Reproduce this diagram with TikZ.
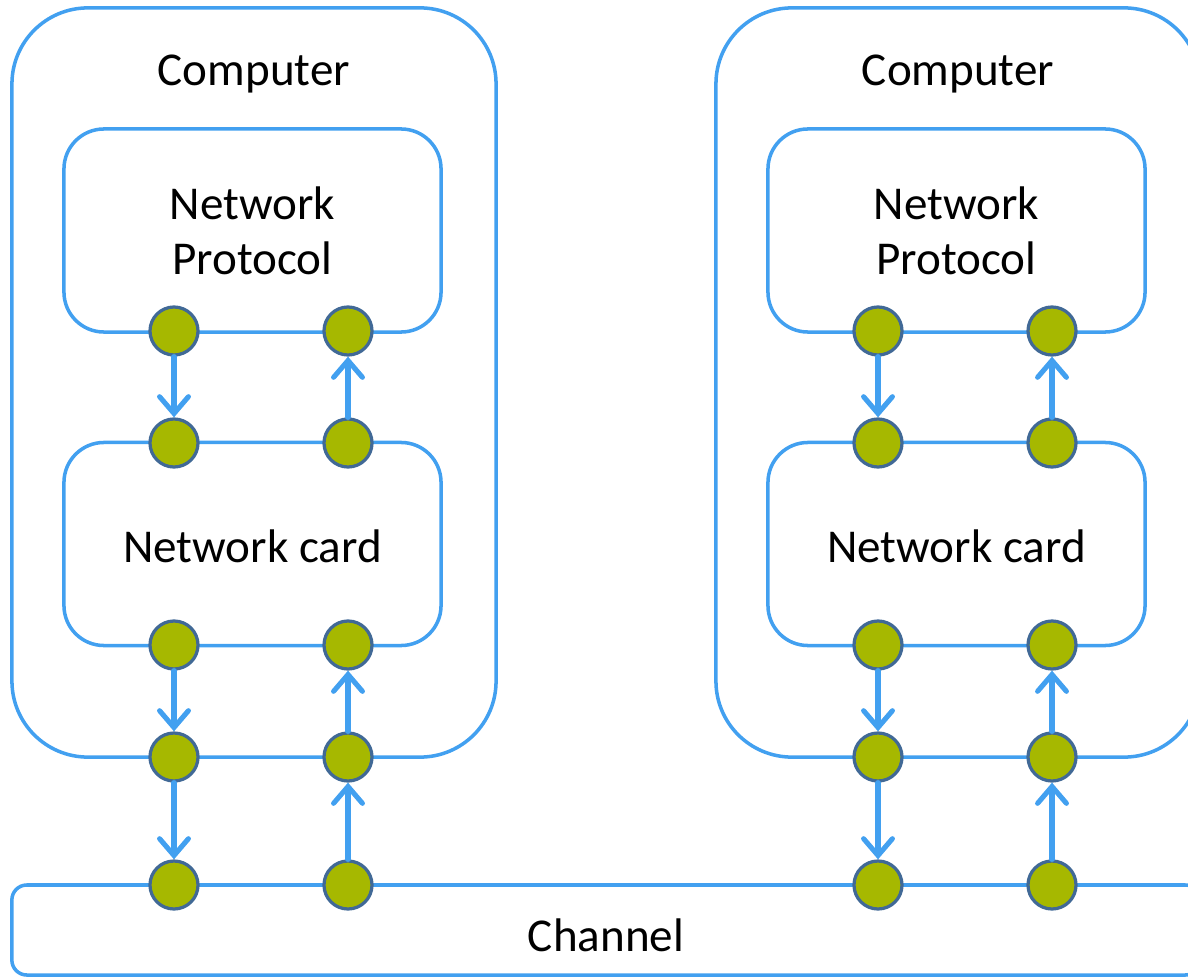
\documentclass[tikz,border=0pt]{standalone}
\usepackage{fontspec}
\setmainfont{Carlito}
\usetikzlibrary{arrows.meta}
\usetikzlibrary{positioning}

\definecolor{linkblue}{RGB}{66,160,240}
\definecolor{portgreen}{RGB}{166,184,0}
\definecolor{portrim}{RGB}{65,105,150}

\tikzset{
  box/.style = {draw=linkblue, line width=2.5pt, rounded corners=#1},
  port/.style = {circle, draw=portrim, fill=portgreen, line width=2.3pt,
                 minimum size=1.2cm, inner sep=0pt},
  flow/.style = {draw=linkblue, line width=3.6pt, line cap=round,
                 -{Straight Barb[length=0.42cm,width=0.72cm,line cap=round]}},
  lbl/.style  = {font=\fontsize{33.5}{39}\selectfont, align=center},
}

\begin{document}
\begin{tikzpicture}[x=0.025cm, y=-0.025cm]
      \useasboundingbox (0,0) rectangle (1188,977);

      % channel
      \node[box=0.375cm, minimum width=29.7cm, minimum height=2.25cm] (chan) at (606,930) {};
      \node[lbl] (chanlbl) at (606,935) {Channel};

      \foreach \s/\dx in {L/0, R/704} {
        \node[box=1.9cm, minimum width=12.1cm, minimum height=18.725cm] (comp\s) at ({254+\dx},382.5) {};
        \node[lbl] (complbl\s) at ({254+\dx},74) {Computer};
        \node[box=1cm, minimum width=9.425cm, minimum height=5.075cm] (prot\s) at ({252.5+\dx},230.5) {};
        \node[lbl] (protlbl\s) at (prot\s) {Network\\Protocol};
        \node[box=1cm, minimum width=9.425cm, minimum height=5.075cm] (card\s) at ({252.5+\dx},544) {};
        \node[lbl] (cardlbl\s) at ({252.5+\dx},546) {Network card};

        % ports, a = down column, b = up column
        \foreach \r/\y in {1/331, 2/443, 3/645, 4/757, 5/885} {
          \node[port] (a\s\r) at ({174+\dx},\y) {};
          \node[port] (b\s\r) at ({348+\dx},\y) {};
        }
        \foreach \r/\n in {1/2, 3/4, 4/5} {
          \draw[flow] (a\s\r) -- (a\s\n);
          \draw[flow] (b\s\n) -- (b\s\r);
        }
      }
    \end{tikzpicture}
\end{document}
